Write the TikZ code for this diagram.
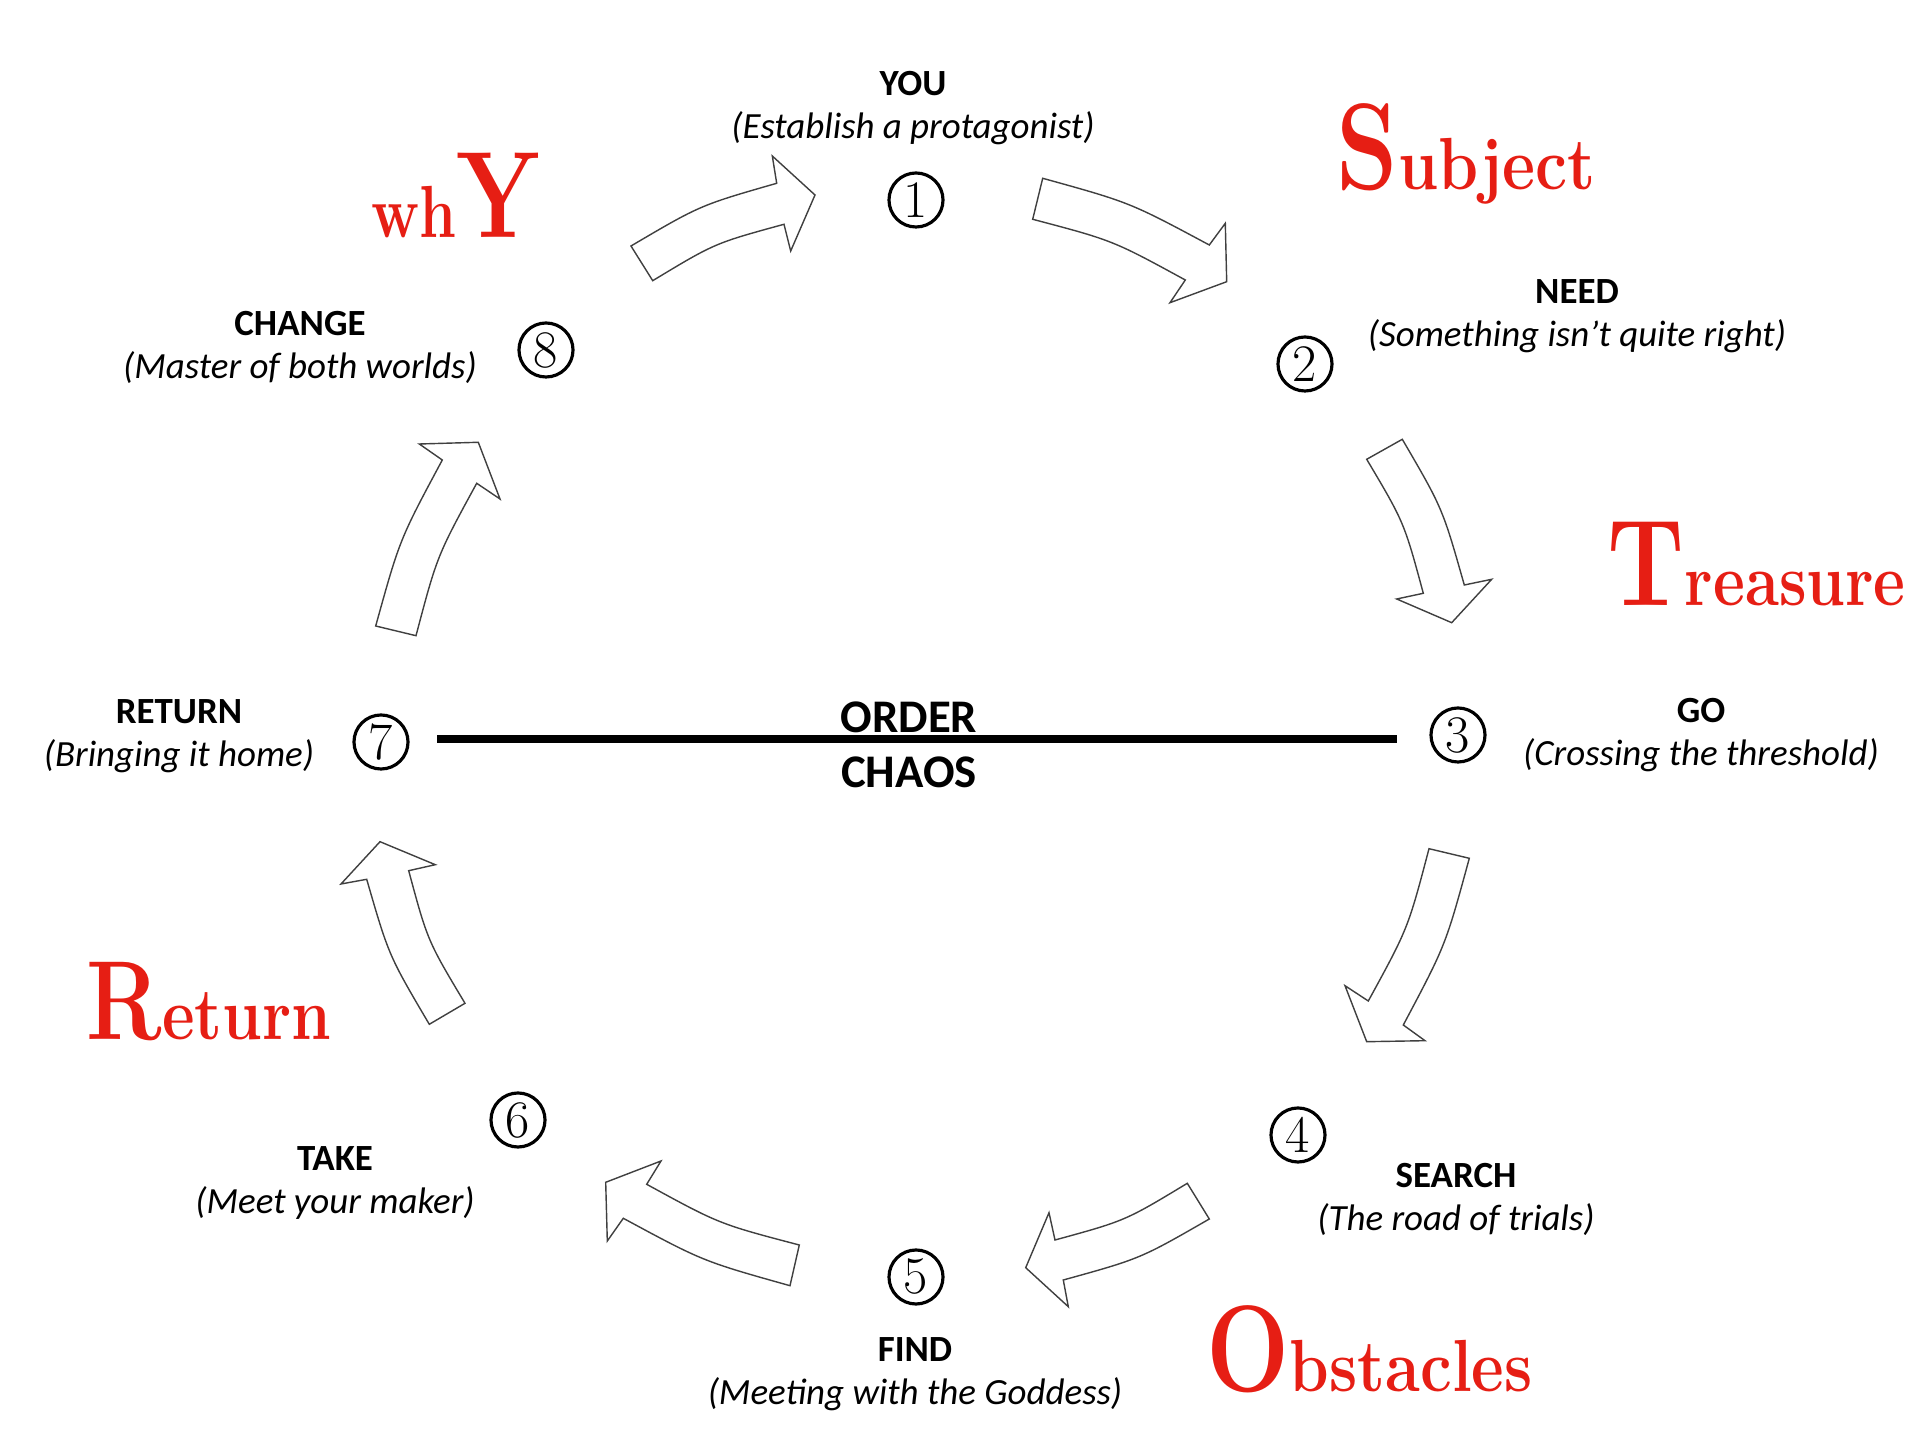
\documentclass[tikz,border=0pt]{standalone}
\usepackage{fontspec}
\usepackage{xcolor}
\usepackage{tikz}

\newfontfamily\calibri{Carlito}
\definecolor{titlered}{RGB}{230,30,20}
\newcommand{\initialcap}[2][35]{\scalebox{0.8}[1]{\fontsize{#1}{#1}\selectfont #2}}
\newcommand{\wordrest}[2][0.86]{\scalebox{#1}[1]{\fontsize{21}{21}\selectfont #2}}

\tikzset{
  stage/.style={font=\calibri\fontsize{10.5}{12.2}\selectfont, align=center},
  num/.style={circle, draw, line width=0.9pt, minimum size=0.54cm, inner sep=0pt, font=\fontsize{15}{15}\selectfont},
  flow/.style={draw=black!75, line width=0.4pt, fill=white, line join=miter},
  divider/.style={line width=2.4pt},
  axis/.style={font=\calibri\bfseries\fontsize{13.3}{13.3}\selectfont},
  keyword/.style={anchor=base west, inner sep=0pt, text=titlered, font=\bfseries}
}

\begin{document}
\begin{tikzpicture}[x=0.01cm, y=-0.01cm]
            \useasboundingbox (0,0) rectangle (1920,1440);
            \node[num] (n1) at (916,200) {1};
            \node[num] (n2) at (1305,364) {2};
            \node[num] (n3) at (1458,735) {3};
            \node[num] (n4) at (1298,1135) {4};
            \node[num] (n5) at (916,1277) {5};
            \node[num] (n6) at (518,1120) {6};
            \node[num] (n7) at (381,742) {7};
            \node[num] (n8) at (546,350) {8};
            \node[stage] (you) at (913,108) {\textbf{YOU}\\\textit{(Establish a protagonist)}};
            \node[stage] (need) at (1577,316) {\textbf{NEED}\\\textit{(Something isn’t quite right)}};
            \node[stage] (go) at (1701,735) {\textbf{GO}\\\textit{(Crossing the threshold)}};
            \node[stage] (search) at (1456,1199) {\textbf{SEARCH}\\\textit{(The road of trials)}};
            \node[stage] (find) at (915,1374) {\textbf{FIND}\\\textit{(Meeting with the Goddess)}};
            \node[stage] (take) at (335,1183) {\textbf{TAKE}\\\textit{(Meet your maker)}};
            \node[stage] (return) at (179,736) {\textbf{RETURN}\\\textit{(Bringing it home)}};
            \node[stage] (change) at (300,347) {\textbf{CHANGE}\\\textit{(Master of both worlds)}};
            \coordinate (orderL) at (437,739);
            \coordinate (orderR) at (1397,739);
            \draw[divider] (orderL) -- (orderR);
            \node[axis] (order) at (909,717) {ORDER};
            \node[axis] (chaos) at (909,772) {CHAOS};
            \node[keyword] (subject) at (1336,190) {\initialcap{S}\wordrest[0.87]{ubject}};
            \node[keyword] (treasure) at (1607,606) {\initialcap{T}\wordrest[0.84]{reasure}};
            \node[keyword] (obstacles) at (1206,1392) {\initialcap{O}\wordrest[0.86]{bstacles}};
            \node[keyword] (ret) at (86,1040) {\initialcap[32]{R}\wordrest[0.86]{eturn}};
            \node[keyword] (why) at (371,238) {\wordrest[0.8]{wh}\initialcap{Y}};
            \draw[flow] (631,246) .. controls (700.3,205.2) .. (776.7,183.3) -- (772.3,156) -- (815,195) -- (790.7,251) -- (784,224.3) .. controls (714.8,243.2) .. (652.7,280.7) -- cycle;
            \draw[flow] (1042.7,178.3) .. controls (1129.8,202.4) .. (1209.3,245) -- (1225.3,223.3) -- (1226.7,281.7) -- (1170,302.7) -- (1185.3,280) .. controls (1112.7,240.4) .. (1032.7,219.3) -- cycle;
            \draw[flow] (1402.3,439.3) .. controls (1442.5,508.2) .. (1464.3,585) -- (1491.7,579.3) -- (1451.7,622.7) -- (1396.7,599) -- (1423.3,593.3) .. controls (1404.1,522.3) .. (1366.7,459.3) -- cycle;
            \draw[flow] (1469.3,858.3) .. controls (1445.6,945.3) .. (1403.3,1025) -- (1425,1040.7) -- (1366.7,1041.7) -- (1345,985.7) -- (1368.3,1001) .. controls (1408,928.4) .. (1429,848.7) -- cycle;
            \draw[flow] (1209.3,1219) .. controls (1140.3,1258.7) .. (1063.3,1280) -- (1068.3,1306.7) -- (1025.7,1267.7) -- (1049,1212.7) -- (1055,1240) .. controls (1125.2,1220.8) .. (1187.3,1183.3) -- cycle;
            \draw[flow] (790,1285.7) .. controls (703,1261.3) .. (623.3,1218.3) -- (607.3,1241) -- (605.7,1182.3) -- (661,1161) -- (646.7,1184.3) .. controls (719.3,1224) .. (799.3,1245) -- cycle;
            \draw[flow] (429.3,1024.3) .. controls (388.8,955.6) .. (366.7,879.3) -- (341,884) -- (380,841.7) -- (435.3,864.7) -- (408.7,870.7) .. controls (427.6,940.8) .. (465,1003.3) -- cycle;
            \draw[flow] (375.7,626) .. controls (399.7,539.4) .. (442.3,460) -- (419.3,444) -- (478.3,442.3) -- (500,499) -- (476.7,483.3) .. controls (437.1,555.9) .. (416,635.7) -- cycle;
        \end{tikzpicture}
\end{document}
